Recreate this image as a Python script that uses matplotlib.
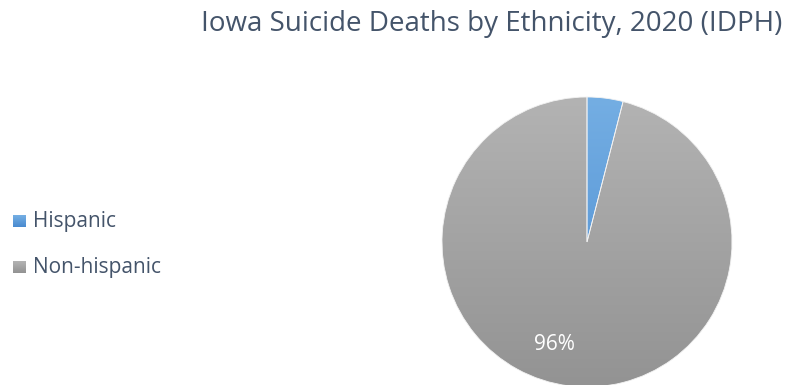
import numpy as np
import matplotlib
matplotlib.use('Agg')
import matplotlib.pyplot as plt

# data
categories = ['Hispanic', 'Non-hispanic']
shares = [4, 96]
top_colors = ['#74aee3', '#b3b3b3']
bottom_colors = ['#4a8bd0', '#939393']
title = 'Iowa Suicide Deaths by Ethnicity, 2020 (IDPH)'
text_color = '#44546a'

plt.rcParams['font.family'] = ['Open Sans', 'DejaVu Sans']

W, H = 789, 385
fig = plt.figure(figsize=(W / 100, H / 100), dpi=100)


def gradient(c0, c1, n=256):
    a = np.array(matplotlib.colors.to_rgb(c0))
    b = np.array(matplotlib.colors.to_rgb(c1))
    g = np.linspace(1, 0, n)[:, None, None]
    return np.repeat(g * a + (1 - g) * b, 2, axis=1)


# pie axes in pixel terms: centre (587, 242), radius 145
cx, cy, r = 587, 242, 145
ax = fig.add_axes([(cx - r) / W, (H - cy - r) / H, 2 * r / W, 2 * r / H])
wedges, texts, autotexts = ax.pie(shares, startangle=90, counterclock=False,
                                  colors=bottom_colors, radius=1,
                                  autopct='%d%%', pctdistance=0.74,
                                  wedgeprops=dict(edgecolor='#f2f2f2',
                                                  linewidth=0.6))
ax.set_xlim(-1, 1)
ax.set_ylim(-1, 1)
ax.set_aspect('equal')
ax.axis('off')

# vertical gradient fill clipped to each wedge
for w, c0, c1 in zip(wedges, top_colors, bottom_colors):
    im = ax.imshow(gradient(c0, c1), extent=(-1, 1, -1, 1),
                   aspect='auto', zorder=1)
    im.set_clip_path(w)
    w.set_facecolor('none')
    w.set_zorder(2)

for t, v in zip(autotexts, shares):
    t.set_color('white')
    t.set_fontsize(15)
    t.set_zorder(3)
    if v < 10:
        t.set_visible(False)
    else:
        x, y = t.get_position()
        t.set_position((x - 0.13, y + 0.03))

fig.text(492 / W, 1 - 24 / H, title, ha='center', va='center',
         fontsize=20, color=text_color)

# legend
leg_y = [221, 267]
for name, c0, c1, y in zip(categories, top_colors, bottom_colors, leg_y):
    lax = fig.add_axes([13 / W, 1 - (y + 6) / H, 12 / W, 12 / H])
    lax.imshow(gradient(c0, c1, 16), aspect='auto')
    lax.axis('off')
    fig.text(33 / W, 1 - y / H, name, ha='left', va='center',
             fontsize=15, color=text_color)

fig.savefig('out.png', dpi=100)
